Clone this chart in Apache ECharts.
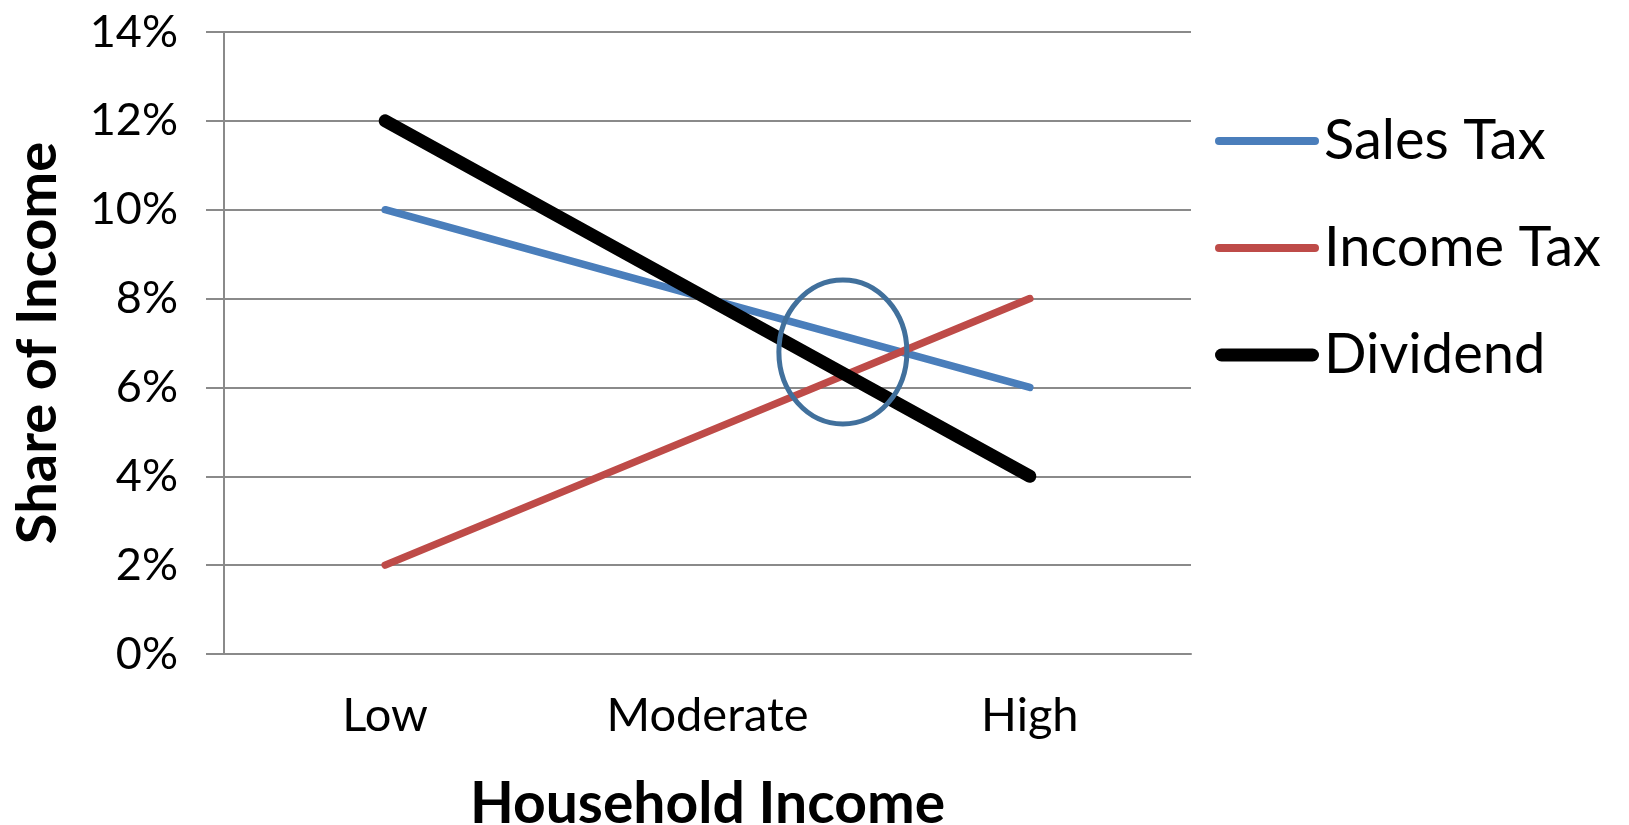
<!DOCTYPE html>
<html>
<head>
<meta charset="utf-8">
<title>Share of Income by Household Income</title>
<script src="https://cdn.jsdelivr.net/npm/echarts@6/dist/echarts.min.js"></script>
<style>
  html, body { margin: 0; padding: 0; background: #ffffff; }
  #chart { width: 1629px; height: 825px; }
</style>
</head>
<body>
<div id="chart"></div>
<script>
// data
var categories = ['Low', 'Moderate', 'High'];
var salesTax = [10, 8, 6];
var incomeTax = [2, 5, 8];
var dividend = [12, 8, 4];
var yTicks = [0, 2, 4, 6, 8, 10, 12, 14];

// the ring drawn around where the three lines cross (category index, value)
var ringAt = [1.42, 6.8];

var font = 'Lato, "Open Sans", sans-serif';
var gray = '#8a8a8a';

// flat legend keys, thin for the taxes and thick for the dividend
var thinKey = 'path://M4,0 H100 A4,4 0 0 1 100,8 H4 A4,4 0 0 1 4,0 Z';
var thickKey = 'path://M6.5,0 H97.5 A6.5,6.5 0 0 1 97.5,13 H6.5 A6.5,6.5 0 0 1 6.5,0 Z';

var myChart = echarts.init(document.getElementById('chart'));

myChart.setOption({
    animation: false,
    grid: { left: 224, right: 438, top: 32, bottom: 171, outerBoundsMode: 'none', containLabel: false },
    legend: {
        orient: 'vertical',
        left: 1210,
        top: 108,
        itemWidth: 104,
        itemHeight: 13,
        itemGap: 51,
        textStyle: { fontFamily: font, fontSize: 56, color: '#000' },
        data: [
            { name: 'Sales Tax', icon: thinKey },
            { name: 'Income Tax', icon: thinKey },
            { name: 'Dividend', icon: thickKey }
        ]
    },
    xAxis: {
        type: 'category',
        data: categories,
        name: 'Household Income',
        nameLocation: 'middle',
        nameGap: 122,
        nameTextStyle: { fontFamily: font, fontSize: 57, fontWeight: 'bold', color: '#000' },
        axisLine: { lineStyle: { color: gray, width: 2 } },
        axisTick: { length: 12, lineStyle: { color: gray, width: 2 } },
        axisLabel: { fontFamily: font, fontSize: 47, color: '#000', margin: 38 }
    },
    yAxis: {
        type: 'value',
        min: yTicks[0],
        max: yTicks[yTicks.length - 1],
        interval: 2,
        name: 'Share of Income',
        nameLocation: 'middle',
        nameGap: 158,
        nameTextStyle: { fontFamily: font, fontSize: 56, fontWeight: 'bold', color: '#000' },
        axisLine: { show: true, lineStyle: { color: gray, width: 2 } },
        axisTick: { show: true, length: 18, lineStyle: { color: gray, width: 2 } },
        splitLine: { lineStyle: { color: gray, width: 2 } },
        axisLabel: { fontFamily: font, fontSize: 45, color: '#000', margin: 46, formatter: '{value}%' }
    },
    series: [
        {
            name: 'Sales Tax', type: 'line', data: salesTax,
            symbol: 'none', color: '#4a7ebb',
            lineStyle: { width: 7.5, cap: 'round' }
        },
        {
            name: 'Income Tax', type: 'line', data: incomeTax,
            symbol: 'none', color: '#be4b48',
            lineStyle: { width: 7.5, cap: 'round' }
        },
        {
            name: 'Dividend', type: 'line', data: dividend,
            symbol: 'none', color: '#000000', z: 3,
            lineStyle: { width: 13, cap: 'round' }
        }
    ]
});

// place the ring from data coordinates
var p0 = myChart.convertToPixel({ seriesIndex: 0 }, [1, ringAt[1]]);
var p1 = myChart.convertToPixel({ seriesIndex: 0 }, [2, ringAt[1]]);
var cx = p0[0] + (p1[0] - p0[0]) * (ringAt[0] - 1);
myChart.setOption({
    graphic: [{
        type: 'ellipse',
        shape: { cx: cx, cy: p0[1], rx: 64, ry: 72 },
        style: { fill: null, stroke: '#41709c', lineWidth: 5 },
        z: 10
    }]
});
</script>
</body>
</html>
